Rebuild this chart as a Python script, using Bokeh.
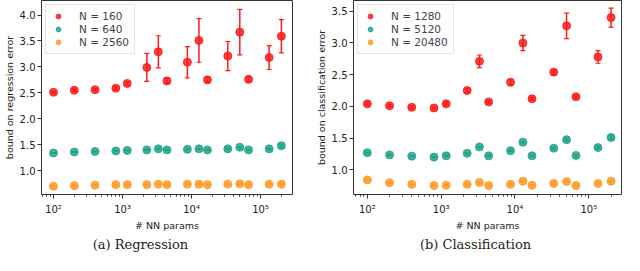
from bokeh.plotting import figure
from bokeh.models import ColumnDataSource, Whisker, TeeHead, Range1d, SingleIntervalTicker, Legend, LegendItem, Label, PrintfTickFormatter
from bokeh.layouts import row, column
from bokeh.embed import file_html
from bokeh.resources import INLINE

nn_params = [100, 200, 400, 800, 1170, 2250, 3300, 4400, 8700, 12800, 17000, 33500, 50000, 67000, 133000, 200000]

# Regression
reg_labels = ["N = 160", "N = 640", "N = 2560"]
reg_160 = [2.51, 2.55, 2.56, 2.59, 2.68, 2.99, 3.29, 2.73, 3.09, 3.51, 2.75, 3.21, 3.67, 2.76, 3.18, 3.59]
reg_160_err = [0.02, 0.02, 0.02, 0.03, 0.03, 0.27, 0.31, 0.05, 0.30, 0.42, 0.05, 0.28, 0.44, 0.05, 0.23, 0.32]
reg_640 = [1.34, 1.36, 1.37, 1.38, 1.39, 1.40, 1.42, 1.40, 1.41, 1.42, 1.40, 1.42, 1.45, 1.40, 1.42, 1.48]
reg_640_err = [0.01, 0.01, 0.01, 0.01, 0.01, 0.01, 0.015, 0.01, 0.01, 0.015, 0.01, 0.015, 0.02, 0.01, 0.015, 0.03]
reg_2560 = [0.70, 0.71, 0.72, 0.73, 0.73, 0.73, 0.74, 0.73, 0.74, 0.74, 0.73, 0.74, 0.745, 0.73, 0.74, 0.74]
reg_2560_err = [0.01] * 16

# Classification
cls_labels = ["N = 1280", "N = 5120", "N = 20480"]
cls_1280 = [2.04, 2.01, 1.985, 1.975, 2.04, 2.25, 2.71, 2.07, 2.38, 3.00, 2.12, 2.54, 3.27, 2.15, 2.78, 3.40]
cls_1280_err = [0.02, 0.02, 0.02, 0.02, 0.02, 0.03, 0.10, 0.02, 0.04, 0.12, 0.02, 0.04, 0.20, 0.02, 0.10, 0.15]
cls_5120 = [1.27, 1.235, 1.215, 1.20, 1.22, 1.26, 1.36, 1.22, 1.30, 1.435, 1.22, 1.34, 1.475, 1.225, 1.35, 1.51]
cls_5120_err = [0.01, 0.01, 0.01, 0.01, 0.01, 0.01, 0.015, 0.01, 0.01, 0.015, 0.01, 0.015, 0.02, 0.01, 0.015, 0.03]
cls_20480 = [0.84, 0.795, 0.77, 0.75, 0.755, 0.77, 0.80, 0.75, 0.77, 0.82, 0.755, 0.785, 0.815, 0.75, 0.785, 0.82]
cls_20480_err = [0.01] * 16

captions = ["(a) Regression", "(b) Classification"]

colors = ["#ff1a1a", "#1fa38a", "#ff9a24"]
x_tick_labels = {100: "10²", 1000: "10³", 10000: "10⁴", 100000: "10⁵"}


def make_plot(series, errs, labels, ylabel, xr, yr, width, bl, br):
    p = figure(width=width, height=233, x_axis_type="log", output_backend="svg",
               toolbar_location=None, min_border_left=bl, min_border_right=br,
               min_border_top=0, min_border_bottom=34,
               x_range=Range1d(*xr), y_range=Range1d(*yr))
    p.xgrid.visible = False
    p.ygrid.visible = False
    p.outline_line_color = "#333333"
    p.outline_line_width = 1
    items = []
    for vals, err, lab, c in zip(series, errs, labels, colors):
        src = ColumnDataSource(dict(x=nn_params, y=vals,
                                    lo=[v - e for v, e in zip(vals, err)],
                                    hi=[v + e for v, e in zip(vals, err)]))
        w = Whisker(source=src, base="x", lower="lo", upper="hi", dimension="height",
                    line_color=c, line_width=1.5,
                    upper_head=TeeHead(size=5, line_color=c, line_width=1.2),
                    lower_head=TeeHead(size=5, line_color=c, line_width=1.2))
        p.add_layout(w)
        r = p.scatter("x", "y", source=src, size=8, color=c, alpha=0.85)
        items.append(LegendItem(label=lab, renderers=[r]))
    leg = Legend(items=items, location="top_left", label_text_font="DejaVu Sans",
                 label_text_font_size="10.5px", glyph_width=14, glyph_height=12,
                 label_height=12, spacing=1, padding=5, margin=4,
                 border_line_color="#cccccc", label_standoff=14)
    p.add_layout(leg)
    for ax in (p.xaxis[0], p.yaxis[0]):
        ax.axis_line_color = None
        ax.major_tick_line_color = "#333333"
        ax.minor_tick_line_color = "#333333"
        ax.major_tick_out = 4
        ax.major_tick_in = 0
        ax.minor_tick_out = 2
        ax.minor_tick_in = 0
        ax.major_label_text_font = "DejaVu Sans"
        ax.major_label_text_font_size = "10px"
        ax.major_label_text_color = "#222222"
        ax.axis_label_text_font = "DejaVu Sans"
        ax.axis_label_text_font_size = "9.5px"
        ax.axis_label_text_font_style = "normal"
        ax.axis_label_text_color = "#222222"
        ax.major_label_standoff = 2
        ax.axis_label_standoff = 2
    p.xaxis[0].major_label_standoff = 5
    p.yaxis[0].ticker = SingleIntervalTicker(interval=0.5, num_minor_ticks=0)
    p.yaxis[0].formatter = PrintfTickFormatter(format="%.1f")
    p.yaxis[0].minor_tick_line_color = None
    p.xaxis[0].major_label_overrides = x_tick_labels
    p.xaxis[0].axis_label = "# NN params"
    p.yaxis[0].axis_label = ylabel
    return p


def make_caption(text, width, cx):
    c = figure(width=width, height=22, output_backend="svg", toolbar_location=None,
               min_border=0, x_axis_location=None, y_axis_location=None,
               x_range=Range1d(0, width), y_range=Range1d(0, 22))
    c.grid.visible = False
    c.outline_line_color = None
    c.add_layout(Label(x=cx, y=11, text=text, text_align="center", text_baseline="middle",
                       text_font="DejaVu Serif", text_font_size="13px", text_color="#222222"))
    return c


p1 = make_plot([reg_160, reg_640, reg_2560], [reg_160_err, reg_640_err, reg_2560_err],
               reg_labels, "bound on regression error",
               (67, 290000), (0.54, 4.28), 312, 10, 20)
p2 = make_plot([cls_1280, cls_5120, cls_20480], [cls_1280_err, cls_5120_err, cls_20480_err],
               cls_labels, "bound on classification error",
               (65, 277000), (0.61, 3.67), 312, 10, 3)
c1 = make_caption(captions[0], 312, 140)
c2 = make_caption(captions[1], 312, 163)

layout = column(row(p1, p2), row(c1, c2))
open("out.html", "w").write(file_html(layout, INLINE))
